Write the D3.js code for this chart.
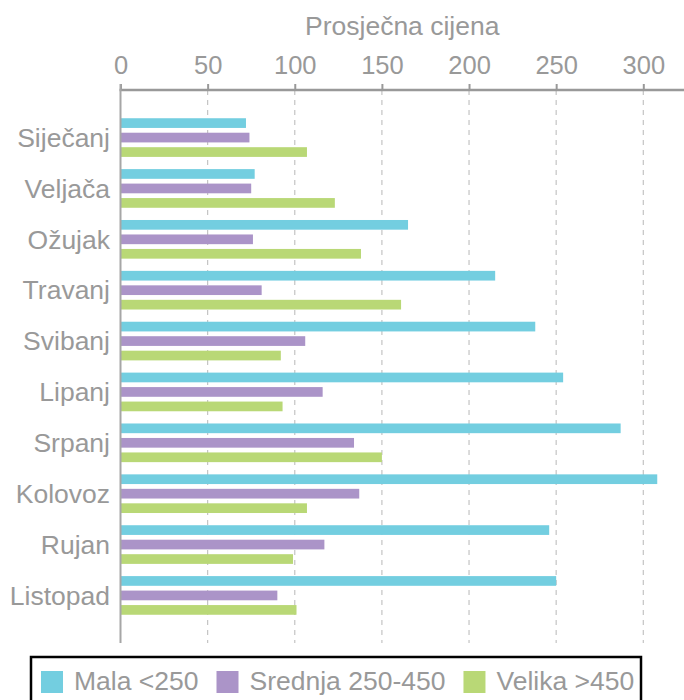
<!DOCTYPE html>
<html>
<head>
<meta charset="utf-8">
<script src="https://cdn.jsdelivr.net/npm/d3@7"></script>
<style>
  body { margin: 0; background: #fff; }
  text { font-family: "Liberation Sans", Arial, sans-serif; fill: #999; }
</style>
</head>
<body>
<script>
// canvas size
var w = 684;
var h = 700;

// data
var months = ["Siječanj", "Veljača", "Ožujak", "Travanj", "Svibanj",
              "Lipanj", "Srpanj", "Kolovoz", "Rujan", "Listopad"];
var seriesNames = ["Mala <250", "Srednja 250-450", "Velika >450"];
var mala    = [72, 77, 165, 215, 238, 254, 287, 308, 246, 250];
var srednja = [74, 75, 76, 81, 106, 116, 134, 137, 117, 90];
var velika  = [107, 123, 138, 161, 92, 93, 150, 107, 99, 101];
var colors = ["#73cee0", "#ab94c8", "#b9d876"];
var ticks = [0, 50, 100, 150, 200, 250, 300];

var svg = d3.select("body")
  .append("svg")
  .attr("width", w)
  .attr("height", h);

// scales
var top0 = 90, bottom0 = 643;
var x = d3.scaleLinear().domain([0, 300]).range([120.5, 643.3]);
var y = d3.scaleBand()
  .domain(months)
  .range([top0, bottom0])
  .paddingInner(0.24)
  .paddingOuter(0.555);
var ySub = d3.scaleBand()
  .domain(seriesNames)
  .range([0, y.bandwidth()])
  .paddingInner(0.33);

// rows built from the arrays
var rows = months.map(function(m, i) {
  return { month: m, values: [mala[i], srednja[i], velika[i]] };
});

// dashed gridlines
svg.append("g")
  .selectAll("line")
  .data(ticks.slice(1))
  .enter()
  .append("line")
  .attr("x1", function(d) { return x(d); })
  .attr("x2", function(d) { return x(d); })
  .attr("y1", top0)
  .attr("y2", bottom0)
  .attr("stroke", "#c4c4c4")
  .attr("stroke-width", 1.2)
  .attr("stroke-dasharray", "5,5");

// bars
var groups = svg.append("g")
  .selectAll("g")
  .data(rows)
  .enter()
  .append("g")
  .attr("transform", function(d) { return "translate(0," + y(d.month) + ")"; });

groups.selectAll("rect")
  .data(function(d) {
    return d.values.map(function(v, j) { return { name: seriesNames[j], value: v, idx: j }; });
  })
  .enter()
  .append("rect")
  .attr("x", x(0))
  .attr("y", function(d) { return ySub(d.name); })
  .attr("width", function(d) { return x(d.value) - x(0); })
  .attr("height", ySub.bandwidth())
  .attr("fill", function(d) { return colors[d.idx]; });

// top axis
var axis = svg.append("g")
  .attr("transform", "translate(0," + top0 + ")")
  .call(d3.axisTop(x).tickValues(ticks).tickSize(6).tickSizeOuter(0).tickPadding(10));
axis.select(".domain").remove();
axis.selectAll(".tick line").attr("stroke", "#999").attr("stroke-width", 2);
axis.selectAll(".tick text")
  .attr("font-size", 25.5)
  .attr("font-family", "Liberation Sans, Arial, sans-serif")
  .attr("fill", "#999");
svg.append("line")
  .attr("x1", x(0) - 1)
  .attr("x2", w)
  .attr("y1", top0)
  .attr("y2", top0)
  .attr("stroke", "#999")
  .attr("stroke-width", 2.5);

// left axis line
svg.append("line")
  .attr("x1", x(0))
  .attr("x2", x(0))
  .attr("y1", top0 - 6)
  .attr("y2", bottom0)
  .attr("stroke", "#a6a6a6")
  .attr("stroke-width", 2);

// category labels
svg.append("g")
  .selectAll("text")
  .data(months)
  .enter()
  .append("text")
  .attr("x", 110)
  .attr("y", function(d) { return y(d) + y.bandwidth() / 2; })
  .attr("dy", "0.35em")
  .attr("text-anchor", "end")
  .attr("font-size", 26.5)
  .text(function(d) { return d; });

// axis title
svg.append("text")
  .attr("x", (x(0) + w) / 2)
  .attr("y", 35)
  .attr("text-anchor", "middle")
  .attr("font-size", 26.5)
  .text("Prosječna cijena");

// legend
svg.append("rect")
  .attr("x", 31)
  .attr("y", 657)
  .attr("width", 610)
  .attr("height", 60)
  .attr("fill", "none")
  .attr("stroke", "#000")
  .attr("stroke-width", 2.5);

var lx = 41;
seriesNames.forEach(function(name, i) {
  svg.append("rect")
    .attr("x", lx)
    .attr("y", 671)
    .attr("width", 22)
    .attr("height", 22)
    .attr("fill", colors[i]);
  var t = svg.append("text")
    .attr("x", lx + 33)
    .attr("y", 690)
    .attr("font-size", 26.5)
    .text(name);
  lx = lx + 33 + t.node().getComputedTextLength() + 18;
});
</script>
</body>
</html>
